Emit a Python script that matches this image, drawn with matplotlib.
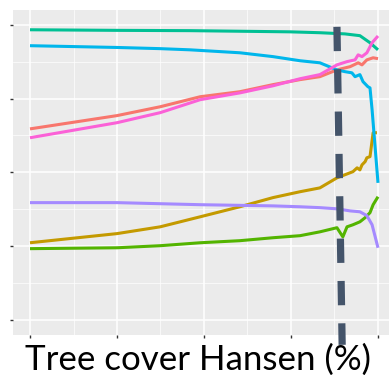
import matplotlib
matplotlib.use("Agg")
import matplotlib.pyplot as plt
from matplotlib.lines import Line2D
import numpy as np

# ---- data (x = tree cover %, y = proportion) ----
teal_x = [0, 25, 46, 74.7, 83.3, 90.5, 94.8, 97.7, 100]
teal_y = [0.983, 0.981, 0.980, 0.976, 0.973, 0.969, 0.963, 0.939, 0.915]

blue_x = [0, 25, 37.4, 46, 60.3, 69.8, 77.6, 83.3, 88.2, 90.5, 92.5, 93.4, 94.8, 95.7, 97.1, 97.7, 98.3, 100]
blue_y = [0.929, 0.923, 0.919, 0.915, 0.905, 0.892, 0.878, 0.871, 0.847, 0.841, 0.837, 0.824, 0.831, 0.807, 0.790, 0.786, 0.712, 0.464]

red_x = [0, 25, 37.4, 48.9, 60.3, 69.8, 77.6, 83.3, 88.2, 92, 94.3, 95.4, 96.8, 98.6, 100]
red_y = [0.647, 0.692, 0.722, 0.756, 0.773, 0.797, 0.814, 0.824, 0.847, 0.858, 0.871, 0.864, 0.881, 0.888, 0.885]

pink_x = [0, 25, 37.4, 48.9, 60.3, 69.8, 77.6, 83.3, 88.2, 91.1, 93.4, 94.3, 95.4, 96.8, 98.3, 100]
pink_y = [0.617, 0.668, 0.702, 0.746, 0.769, 0.793, 0.817, 0.831, 0.864, 0.875, 0.881, 0.898, 0.892, 0.905, 0.939, 0.962]

purple_x = [0, 25, 48.9, 69.8, 77.6, 83.3, 88.2, 92, 94.8, 96.8, 98.3, 100]
purple_y = [0.397, 0.397, 0.390, 0.386, 0.383, 0.380, 0.376, 0.369, 0.366, 0.353, 0.322, 0.244]

gold_x = [0, 25, 37.4, 48.9, 60.3, 69.8, 77.6, 83.3, 88.2, 92.8, 94, 94.8, 95.4, 96.3, 96.8, 97.7, 98.6, 99.7]
gold_y = [0.261, 0.292, 0.315, 0.349, 0.383, 0.414, 0.434, 0.447, 0.481, 0.502, 0.515, 0.508, 0.525, 0.536, 0.549, 0.553, 0.634, 0.634]

green_x = [0, 25, 37.4, 48.9, 60.3, 69.8, 77.6, 83.3, 88.2, 89.9, 91.1, 92.8, 94.8, 96.3, 97.7, 98.6, 100]
green_y = [0.241, 0.244, 0.251, 0.261, 0.268, 0.278, 0.285, 0.298, 0.312, 0.281, 0.315, 0.322, 0.332, 0.346, 0.363, 0.390, 0.417]

x_ticks = [0, 25, 50, 75, 100]
y_ticks = [0, 0.25, 0.5, 0.75, 1.0]
threshold_top = 88.2
threshold_bottom = 89.7
x_label = "Tree cover Hansen (%)"

series = [
    (red_x, red_y, "#F8766D"),
    (gold_x, gold_y, "#C49A00"),
    (green_x, green_y, "#53B400"),
    (teal_x, teal_y, "#00C094"),
    (blue_x, blue_y, "#00B6EB"),
    (purple_x, purple_y, "#A58AFF"),
    (pink_x, pink_y, "#FB61D7"),
]

W, H = 389, 375
fig = plt.figure(figsize=(W / 100, H / 100), dpi=100)
fig.patch.set_facecolor("white")

# axes geometry in pixels
ax_left, ax_bottom_px = 12.6, 375 - 334.5
ax_w, ax_h = 110 * 3.48, 324.5
ax = fig.add_axes([ax_left / W, ax_bottom_px / H, ax_w / W, ax_h / H])
ax.set_facecolor("#EBEBEB")
ax.set_xlim(-5, 105)
ax.set_ylim(-0.05, 1.05)
for s in ax.spines.values():
    s.set_visible(False)

ax.set_xticks(x_ticks)
ax.set_yticks(y_ticks)
ax.set_xticks([12.5, 37.5, 62.5, 87.5], minor=True)
ax.set_yticks([0.125, 0.375, 0.625, 0.875], minor=True)
ax.grid(which="major", color="white", linewidth=1.1)
ax.grid(which="minor", color="white", linewidth=0.5)
ax.set_axisbelow(True)
ax.tick_params(which="major", length=2.5, width=1.0, color="#333333",
               labelbottom=False, labelleft=False)
ax.tick_params(which="minor", length=0)

for xs, ys, c in series:
    ax.plot(xs, ys, color=c, linewidth=2.2, solid_capstyle="butt", zorder=3)

# dashed threshold line (slightly slanted, extends below panel)
lw = 5.2
ln = Line2D([threshold_top, threshold_bottom], [0.993, -0.085], color="#44546A",
            linewidth=lw, clip_on=False, zorder=5,
            linestyle=(0, (17.5 / lw, 13.0 / lw)), dash_capstyle="butt")
ax.add_line(ln)

# x-axis label, fitted to width
t = fig.text(25 / W, 5.5 / H, x_label, fontsize=30, family="Lato",
             ha="left", va="baseline", color="black", zorder=1)
fig.canvas.draw()
r = fig.canvas.get_renderer()
wpx = t.get_window_extent(r).width
t.set_fontsize(30 * 345 / wpx)

fig.savefig("out.png", dpi=100)
